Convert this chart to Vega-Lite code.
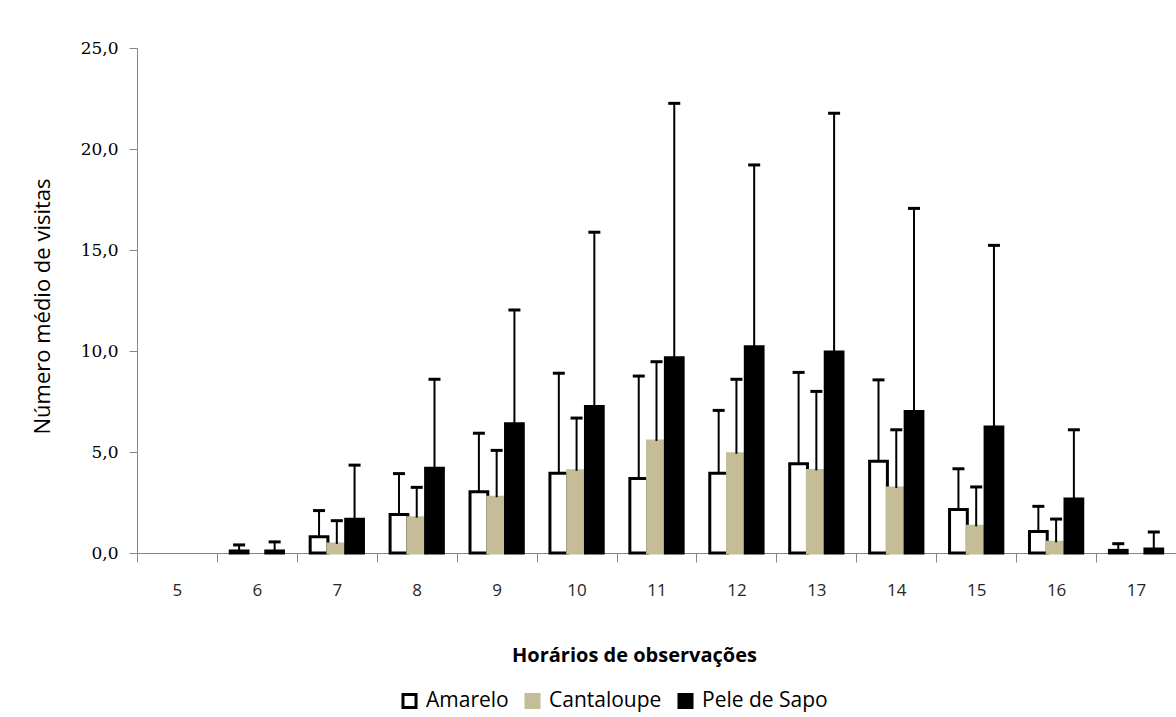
{
  "$schema": "https://vega.github.io/schema/vega-lite/v6.json",
  "width": 1039,
  "height": 505,
  "autosize": {"type": "none"},
  "padding": {"left": 137, "top": 48, "right": 0, "bottom": 164},
  "background": "white",
  "config": {"view": {"stroke": null}, "font": "Open Sans"},
  "data": {"values": [
    {"hour": "5", "series": "Amarelo", "value": 0, "upper": 0},
    {"hour": "5", "series": "Cantaloupe", "value": 0, "upper": 0},
    {"hour": "5", "series": "Pele de Sapo", "value": 0, "upper": 0},
    {"hour": "6", "series": "Amarelo", "value": 0.1, "upper": 0.4},
    {"hour": "6", "series": "Cantaloupe", "value": 0, "upper": 0},
    {"hour": "6", "series": "Pele de Sapo", "value": 0.1, "upper": 0.55},
    {"hour": "7", "series": "Amarelo", "value": 0.8, "upper": 2.1},
    {"hour": "7", "series": "Cantaloupe", "value": 0.45, "upper": 1.6},
    {"hour": "7", "series": "Pele de Sapo", "value": 1.67, "upper": 4.35},
    {"hour": "8", "series": "Amarelo", "value": 1.9, "upper": 3.93},
    {"hour": "8", "series": "Cantaloupe", "value": 1.75, "upper": 3.25},
    {"hour": "8", "series": "Pele de Sapo", "value": 4.19, "upper": 8.6},
    {"hour": "9", "series": "Amarelo", "value": 3.03, "upper": 5.93},
    {"hour": "9", "series": "Cantaloupe", "value": 2.76, "upper": 5.08},
    {"hour": "9", "series": "Pele de Sapo", "value": 6.4, "upper": 12.03},
    {"hour": "10", "series": "Amarelo", "value": 3.95, "upper": 8.9},
    {"hour": "10", "series": "Cantaloupe", "value": 4.07, "upper": 6.68},
    {"hour": "10", "series": "Pele de Sapo", "value": 7.25, "upper": 15.88},
    {"hour": "11", "series": "Amarelo", "value": 3.69, "upper": 8.76},
    {"hour": "11", "series": "Cantaloupe", "value": 5.55, "upper": 9.47},
    {"hour": "11", "series": "Pele de Sapo", "value": 9.67, "upper": 22.26},
    {"hour": "12", "series": "Amarelo", "value": 3.95, "upper": 7.06},
    {"hour": "12", "series": "Cantaloupe", "value": 4.91, "upper": 8.6},
    {"hour": "12", "series": "Pele de Sapo", "value": 10.21, "upper": 19.21},
    {"hour": "13", "series": "Amarelo", "value": 4.42, "upper": 8.94},
    {"hour": "13", "series": "Cantaloupe", "value": 4.09, "upper": 8.0},
    {"hour": "13", "series": "Pele de Sapo", "value": 9.95, "upper": 21.77},
    {"hour": "14", "series": "Amarelo", "value": 4.54, "upper": 8.57},
    {"hour": "14", "series": "Cantaloupe", "value": 3.22, "upper": 6.1},
    {"hour": "14", "series": "Pele de Sapo", "value": 7.01, "upper": 17.06},
    {"hour": "15", "series": "Amarelo", "value": 2.15, "upper": 4.17},
    {"hour": "15", "series": "Cantaloupe", "value": 1.32, "upper": 3.27},
    {"hour": "15", "series": "Pele de Sapo", "value": 6.24, "upper": 15.23},
    {"hour": "16", "series": "Amarelo", "value": 1.06, "upper": 2.31},
    {"hour": "16", "series": "Cantaloupe", "value": 0.53, "upper": 1.68},
    {"hour": "16", "series": "Pele de Sapo", "value": 2.67, "upper": 6.1},
    {"hour": "17", "series": "Amarelo", "value": 0.13, "upper": 0.46},
    {"hour": "17", "series": "Cantaloupe", "value": 0, "upper": 0},
    {"hour": "17", "series": "Pele de Sapo", "value": 0.2, "upper": 1.04}
  ]},
  "encoding": {
    "x": {
      "field": "hour", "type": "nominal",
      "scale": {"domain": ["5","6","7","8","9","10","11","12","13","14","15","16","17"], "paddingInner": 0, "paddingOuter": 0},
      "axis": {
        "tickBand": "extent", "labelAngle": 0, "labelFont": "Open Sans", "labelFontSize": 17, "labelColor": "#262626",
        "labelPadding": 20, "tickSize": 9, "tickColor": "#868686", "domainColor": "#868686",
        "title": "Horários de observações", "titleFont": "Open Sans", "titleFontSize": 20, "titleFontWeight": "bold", "titleColor": "black",
        "titleX": 497, "titleY": 102, "titleBaseline": "middle", "titleAlign": "center"
      }
    },
    "xOffset": {
      "field": "series", "type": "nominal",
      "scale": {"domain": ["Amarelo", "Cantaloupe", "Pele de Sapo"], "paddingInner": 0, "paddingOuter": 0.75}
    }
  },
  "layer": [
    {
      "transform": [{"filter": "datum.value > 0"}],
      "mark": {"type": "bar", "strokeWidth": 3, "strokeJoin": "miter"},
      "encoding": {
        "y": {
          "field": "value", "type": "quantitative",
          "scale": {"domain": [0, 25], "nice": false},
          "axis": {
            "values": [0, 5, 10, 15, 20, 25],
            "labelExpr": "replace(format(datum.value, '.1f'), '.', ',')",
            "labelFont": "DejaVu Serif", "labelFontSize": 17, "labelColor": "black",
            "tickColor": "#868686", "domainColor": "#868686", "tickSize": 8, "labelPadding": 11, "grid": false,
            "title": "Número médio de visitas", "titleFont": "Open Sans", "titleFontSize": 22, "titleFontWeight": "normal", "titleColor": "black",
            "titleX": -95, "titleY": 258, "titleAngle": -90, "titleBaseline": "middle", "titleAlign": "center"
          }
        },
        "fill": {
          "field": "series", "type": "nominal",
          "scale": {"domain": ["Amarelo", "Cantaloupe", "Pele de Sapo"], "range": ["white", "#c4bd97", "black"]},
          "legend": {
            "orient": "none", "legendX": 262, "legendY": 642, "direction": "horizontal", "title": null,
            "symbolType": "square", "symbolSize": 170, "symbolStrokeColor": "black", "symbolStrokeWidth": 3,
            "labelFont": "Open Sans", "labelFontSize": 21, "labelColor": "black", "columnPadding": 10, "labelOffset": 6
          }
        },
        "stroke": {
          "field": "series", "type": "nominal",
          "scale": {"domain": ["Amarelo", "Cantaloupe", "Pele de Sapo"], "range": ["black", "#c4bd97", "black"]},
          "legend": null
        }
      }
    },
    {
      "transform": [{"filter": "datum.upper > 0"}],
      "mark": {"type": "rule", "color": "black", "strokeWidth": 2},
      "encoding": {
        "y": {"field": "value", "type": "quantitative"},
        "y2": {"field": "upper"}
      }
    },
    {
      "transform": [{"filter": "datum.upper > 0"}],
      "mark": {"type": "tick", "color": "black", "thickness": 3, "size": 12, "orient": "horizontal", "opacity": 1},
      "encoding": {
        "y": {"field": "upper", "type": "quantitative"}
      }
    }
  ]
}
